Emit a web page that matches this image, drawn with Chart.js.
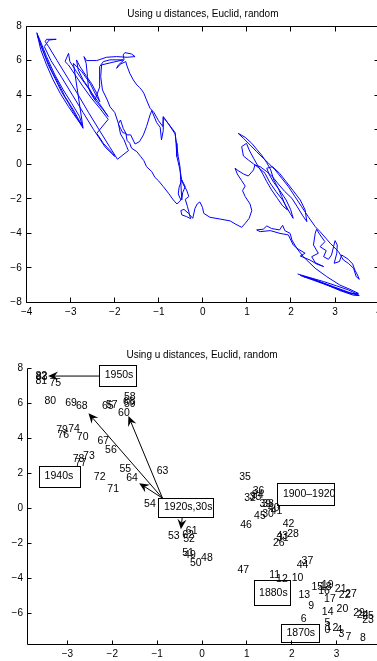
<!DOCTYPE html>
<html><head><meta charset="utf-8">
<script src="https://cdn.jsdelivr.net/npm/chart.js@4/dist/chart.umd.min.js"></script>
<style>
html,body{margin:0;padding:0;background:#fff;overflow:hidden;width:377px;height:661px;}
canvas{position:absolute;left:0;}
#c1{top:0;}
#c2{top:330px;}
</style></head><body>
<canvas id="c1" width="390" height="330"></canvas>
<canvas id="c2" width="377" height="331"></canvas>
<script>
// ---------- DATA: top chart trajectory (x, y pairs in data units) ----------
const seg1870s = [[2.15,-6.35],[2.43,-6.56],[2.74,-6.79],[3.04,-7.04],[3.30,-7.27],[3.53,-7.54],[3.26,-7.41],[2.89,-7.04],[2.51,-6.66],[2.21,-6.43],[2.58,-6.73],[2.96,-7.08],[3.34,-7.43],[3.55,-7.60],[3.42,-7.58],[3.11,-7.31],[2.77,-6.93],[2.47,-6.62],[2.28,-6.50],[2.66,-6.85],[3.04,-7.20],[3.38,-7.51],[3.53,-7.47],[3.34,-7.24],[3.11,-6.99],[2.81,-6.50],[2.55,-6.02],[2.28,-5.35],[2.13,-4.86],[2.02,-4.38],[1.98,-4.00]];
const seg1880s = [[1.86,-3.84],[1.81,-3.53],[1.74,-3.80],[1.56,-3.72],[1.45,-3.57],[1.37,-3.76],[1.22,-3.80],[1.30,-3.90],[1.53,-3.84],[1.75,-4.00],[1.94,-4.09],[2.05,-4.67],[2.17,-4.92],[2.32,-5.15],[2.21,-5.31],[2.43,-5.54],[2.58,-5.77],[2.74,-5.92],[2.55,-5.69],[2.47,-5.35],[2.62,-5.15],[2.51,-4.67],[2.55,-4.00],[2.58,-3.76],[2.66,-4.09],[2.77,-4.48],[2.66,-4.77],[2.80,-5.00],[2.74,-5.35],[2.85,-5.50],[2.92,-5.25],[3.00,-4.42],[3.05,-4.67],[3.04,-5.15],[2.98,-5.73],[3.10,-5.63],[3.15,-5.25],[3.30,-5.50],[3.40,-5.77],[3.45,-6.12],[3.51,-6.41],[3.55,-6.66],[3.48,-6.50],[3.42,-6.02],[3.30,-5.73],[3.19,-5.54],[3.08,-5.06],[2.89,-4.57],[2.66,-3.90],[2.55,-3.61]];
const segRise = [[2.39,-3.03],[2.24,-2.45],[2.09,-1.87],[1.94,-1.29],[1.79,-0.81],[1.64,-0.33],[1.49,0.06],[1.37,0.35],[1.22,0.73],[1.07,1.12],[0.92,1.50],[0.80,1.79]];
const seg1900s = [[0.96,1.56],[1.11,1.21],[1.22,0.87],[1.33,0.54],[1.45,0.09],[1.54,-0.33],[1.61,-0.91],[1.71,-1.39],[1.79,-1.87],[1.86,-2.30],[1.92,-2.64],[1.81,-2.41],[1.69,-1.97],[1.56,-1.49],[1.45,-1.01],[1.36,-0.56],[1.26,-0.14],[1.15,0.35],[1.05,0.83],[0.99,1.21],[0.88,1.02],[0.92,0.48],[1.03,0.25],[1.15,0.02],[1.28,-0.23],[1.41,-0.52],[1.52,-1.06],[1.66,-1.58],[1.81,-2.07],[1.98,-2.84],[2.05,-3.13],[1.99,-2.61],[1.89,-2.07],[1.75,-1.53],[1.61,-1.06],[1.51,-0.62],[1.45,-0.23],[1.58,-0.14],[1.74,-0.52],[1.89,-1.01],[2.05,-1.53],[2.21,-2.07],[2.32,-2.64],[2.36,-3.32],[2.27,-2.99],[2.14,-2.45],[2.02,-1.97],[1.86,-1.58],[1.71,-1.14],[1.58,-0.72],[1.45,-0.43],[1.30,-0.14],[1.18,-0.04],[1.15,-0.33],[1.03,-0.68],[0.92,-0.56],[0.80,-0.37],[0.73,-0.23]];
const segDip = [[0.78,-0.56],[0.88,-0.95],[0.96,-1.26],[0.90,-1.53],[0.96,-1.87],[1.07,-2.30],[1.11,-2.68],[1.05,-3.13],[0.96,-3.42],[0.88,-3.65],[0.73,-3.45],[0.62,-3.28],[0.39,-3.17],[0.16,-3.07],[0.02,-2.84],[-0.01,-2.49],[-0.07,-2.18],[-0.13,-2.30],[-0.18,-2.55],[-0.23,-3.13]];
const seg1920s = [[-0.33,-2.84],[-0.43,-2.61],[-0.50,-2.68],[-0.48,-2.93],[-0.37,-3.03],[-0.28,-3.15],[-0.35,-2.45],[-0.40,-2.03],[-0.32,-1.87],[-0.37,-1.49],[-0.44,-1.20],[-0.48,-0.91],[-0.54,-1.33],[-0.56,-1.72],[-0.50,-2.07],[-0.59,-2.30]];
const segMidLoop = [[-0.67,-2.07],[-0.78,-1.68],[-0.90,-1.29],[-1.01,-0.95],[-1.09,-0.76],[-1.16,-0.43],[-1.28,-0.14],[-1.34,0.21],[-1.41,0.44],[-1.50,0.73],[-1.62,0.93],[-1.66,1.21],[-1.72,1.37],[-1.75,1.79],[-1.82,1.83],[-1.87,2.08],[-1.92,2.33],[-1.87,2.56],[-1.81,2.08],[-1.73,1.70],[-1.64,1.70],[-1.54,1.17],[-1.44,1.31],[-1.35,1.70],[-1.28,2.18],[-1.20,2.85],[-1.16,3.11],[-1.13,2.91],[-1.05,2.41],[-0.97,2.14],[-0.94,1.41],[-0.90,1.95],[-0.90,2.72],[-0.76,2.27],[-0.63,1.83],[-0.61,1.21],[-0.59,0.44],[-0.52,-0.33],[-0.48,-0.91],[-0.40,-1.29],[-0.46,-1.65],[-0.48,-2.07],[-0.52,-0.14],[-0.56,0.44],[-0.59,1.02],[-0.63,1.75],[-0.78,2.33],[-0.90,2.76],[-0.91,2.18],[-1.01,2.53],[-1.11,2.99],[-1.20,3.24],[-1.28,3.72],[-1.34,4.11],[-1.39,4.30],[-1.44,4.45],[-1.50,4.59],[-1.58,4.88],[-1.66,5.26],[-1.73,5.74],[-1.75,5.94]];
const segUpper = [[-1.87,5.80],[-1.96,5.55],[-1.92,5.74],[-1.79,6.04],[-1.81,6.33],[-1.77,6.46],[-1.62,6.38],[-1.54,6.23],[-1.72,6.19],[-1.96,6.23],[-2.19,6.19],[-2.41,6.00],[-2.64,6.00],[-2.70,6.23],[-2.65,5.84],[-2.62,5.07],[-2.60,4.49],[-2.55,4.11],[-2.45,3.72],[-2.34,4.49],[-2.35,5.07],[-2.34,5.65],[-2.26,5.94],[-2.11,6.04],[-1.81,6.04],[-2.30,5.75],[-2.32,5.07],[-2.28,4.30],[-2.17,3.72],[-2.11,3.33],[-2.00,2.99],[-1.92,2.37],[-1.87,1.75],[-1.79,1.41],[-1.73,1.02],[-1.69,0.79],[-1.94,0.29]];
const segLeftLoop = [[-2.12,1.02],[-2.36,2.01],[-2.60,3.01],[-2.83,4.01],[-3.07,5.00],[-3.31,6.00],[-3.50,6.80],[-3.58,7.10],[-3.55,7.23],[-3.33,7.23],[-3.49,7.19],[-3.60,6.81],[-3.45,6.00],[-3.20,5.00],[-2.96,4.00],[-2.72,3.00],[-2.48,2.00],[-2.22,1.00],[-2.00,0.45],[-2.05,0.63],[-2.26,1.21],[-2.41,1.79]];
const segStreak2 = [[-2.15,2.60],[-2.34,3.24],[-2.53,3.82],[-2.72,4.49],[-2.90,5.17],[-3.05,5.74],[-3.13,5.94],[-3.05,6.42],[-3.02,5.94],[-2.87,5.36],[-2.68,4.68],[-2.49,4.01],[-2.30,3.33],[-2.15,2.76],[-2.26,3.14],[-2.45,3.72],[-2.56,4.30],[-2.72,4.88],[-2.83,5.46],[-2.87,6.04],[-2.79,5.65],[-2.64,5.07],[-2.53,4.68],[-2.41,4.11],[-2.34,3.62],[-2.41,3.91],[-2.56,4.68],[-2.75,5.36],[-2.94,5.84]];
const segStreak1 = [[-2.72,2.08],[-2.79,2.37],[-2.90,2.85],[-3.05,3.53],[-3.21,4.20],[-3.36,4.98],[-3.51,5.75],[-3.64,6.62],[-3.76,7.48],[-3.71,7.10],[-3.59,6.33],[-3.44,5.46],[-3.28,4.68],[-3.13,3.91],[-2.94,3.14],[-2.75,2.27],[-2.87,2.66],[-3.05,3.33],[-3.24,4.11],[-3.40,4.88],[-3.55,5.75],[-3.68,6.62],[-3.77,7.61],[-3.70,7.19],[-3.55,6.23],[-3.36,5.17],[-3.17,4.30],[-2.98,3.53],[-2.80,2.76],[-2.73,2.18]];

const topXTicks = [-4,-3,-2,-1,0,1,2,3,4];
const topYTicks = [-8,-6,-4,-2,0,2,4,6,8];

// ---------- DATA: bottom chart labelled points ----------
const labelX = [2.73,2.76,2.91,3.04,3.00,2.73,2.20,3.20,3.52,2.37,
 2.00,1.50,1.65,2.15,2.67,2.44,2.59,2.72,2.63,2.67,
 3.00,2.96,3.05,3.57,3.45,3.57,1.58,3.19,1.90,3.37,
 1.34,1.67,0.94,1.06,1.11,0.83,1.13,2.22,1.34,1.28,
 1.47,1.53,1.80,1.66,2.11,1.16,0.85,0.79,-0.02,-0.40,
 -0.27,-0.44,-0.42,-0.76,-1.29,-1.84,-2.16,-2.14,-1.74,-1.74,
 -1.87,-0.36,-0.44,-1.01,-1.69,-2.23,-1.76,-2.33,-2.81,-3.05,
 -2.79,-2.11,-2.41,-2.65,-2.98,-3.40,-3.22,-2.83,-2.88,-3.25,
 -3.51,-3.71,-3.71,-3.70];
const labelY = [-6.94,-6.77,-6.84,-7.17,-6.94,-6.56,-6.31,-7.35,-7.41,-5.57,
 -3.99,-3.80,-4.05,-4.94,-5.93,-4.50,-4.71,-5.19,-4.49,-4.37,
 -5.76,-4.60,-4.94,-6.37,-6.08,-6.17,-2.00,-4.89,-1.47,-5.99,
 -0.32,-1.69,0.57,0.66,0.76,1.77,1.00,-3.04,0.25,0.25,
 0.02,-0.19,-0.90,-1.58,-3.23,-0.44,-0.95,-3.52,-2.85,-2.66,
 -3.14,-2.57,-1.77,-1.62,0.25,2.22,3.32,5.89,6.35,5.95,
 5.42,-1.28,-1.52,2.14,1.71,5.83,6.03,3.84,5.83,5.99,
 4.08,1.08,1.77,2.96,4.50,7.16,4.18,2.58,2.79,4.46,
 6.09,7.27,7.56,7.46];
const labelNames = labelX.map((_, i) => String(i));

const boxText   = ['1950s','1940s','1920s,30s','1900\u20131920','1880s','1870s'];
const boxLeft   = [-2.29,-3.63,-0.97,1.68,1.15,1.76];
const boxRight  = [-1.46,-2.72,0.25,2.96,1.95,2.61];
const boxTop    = [8.17,2.41,0.60,1.46,-4.12,-6.63];
const boxBottom = [6.97,1.23,-0.51,0.19,-5.55,-7.67];

const arrowFromX = [-2.29,-0.88,-0.88,-0.88,-0.44];
const arrowFromY = [7.54,0.57,0.57,0.57,-0.51];
const arrowToX   = [-3.43,-2.53,-1.64,-1.40,-0.47];
const arrowToY   = [7.54,5.42,5.26,1.43,-1.20];

const botXTicks = [-3,-2,-1,0,1,2,3];
const botYTicks = [-6,-4,-2,0,2,4,6,8];

const titleText = 'Using u distances, Euclid, random';

// ---------- rendering ----------
const FONT = '"Liberation Sans", Arial, Helvetica, sans-serif';
Chart.defaults.font.family = FONT;
Chart.defaults.font.size = 10;
Chart.defaults.color = '#000';
const fmt = v => String(v).replace('-', '\u2212');

function framePlugin(opts) {
  return {
    id: 'frame',
    afterDraw(chart) {
      const {ctx, chartArea: a} = chart;
      const xs = chart.scales.x, ys = chart.scales.y;
      const L = Math.floor(a.left) + 0.5, R = Math.floor(a.right) + 0.5;
      const T = Math.floor(a.top) + 0.5, B = Math.floor(a.bottom) + 0.5;
      ctx.save();
      ctx.strokeStyle = '#000'; ctx.lineWidth = 1;
      ctx.beginPath();
      if (opts.box) { ctx.rect(L, T, R - L, B - T); }
      else { ctx.moveTo(L, T); ctx.lineTo(L, B); ctx.lineTo(R + 2, B); }
      ctx.stroke();
      const tl = opts.tick;
      ctx.beginPath();
      xs.ticks.forEach(t => {
        const px = Math.floor(xs.getPixelForValue(t.value)) + 0.5;
        ctx.moveTo(px, B); ctx.lineTo(px, B - tl);
        if (opts.box) { ctx.moveTo(px, T); ctx.lineTo(px, T + tl); }
      });
      ys.ticks.forEach(t => {
        const py = Math.floor(ys.getPixelForValue(t.value)) + 0.5;
        ctx.moveTo(L, py); ctx.lineTo(L + tl, py);
        if (opts.box) { ctx.moveTo(R, py); ctx.lineTo(R - tl, py); }
      });
      ctx.stroke();
      ctx.font = '10px ' + FONT; ctx.fillStyle = '#000';
      ctx.textAlign = 'center'; ctx.textBaseline = 'middle';
      ctx.fillText(titleText, (a.left + a.right) / 2, opts.titleY);
      ctx.restore();
    }
  };
}

function drawArrow(ctx, x1, y1, x2, y2) {
  const ang = Math.atan2(y2 - y1, x2 - x1);
  const c = Math.cos(ang), s = Math.sin(ang);
  const hl = 10, hw = 4.5, notch = 6.5;
  const p = (d, w) => [x2 - c * d - s * w, y2 - s * d + c * w];
  ctx.beginPath();
  ctx.moveTo(x1, y1);
  ctx.lineTo(...p(notch, 0));
  ctx.stroke();
  ctx.beginPath();
  ctx.moveTo(x2, y2);
  ctx.lineTo(...p(hl, hw));
  ctx.lineTo(...p(notch, 0));
  ctx.lineTo(...p(hl, -hw));
  ctx.closePath();
  ctx.fill();
}

const annotPlugin = {
  id: 'annot',
  afterDraw(chart) {
    const {ctx} = chart;
    const xs = chart.scales.x, ys = chart.scales.y;
    const meta = chart.getDatasetMeta(0);
    ctx.save();
    ctx.font = '10.5px ' + FONT; ctx.fillStyle = '#000'; ctx.strokeStyle = '#000';
    ctx.textAlign = 'left'; ctx.textBaseline = 'middle';
    meta.data.forEach((el, i) => ctx.fillText(labelNames[i], el.x, el.y));
    ctx.lineWidth = 1;
    boxText.forEach((t, i) => {
      const x1 = xs.getPixelForValue(boxLeft[i]), x2 = xs.getPixelForValue(boxRight[i]);
      const y1 = ys.getPixelForValue(boxTop[i]), y2 = ys.getPixelForValue(boxBottom[i]);
      ctx.strokeRect(Math.round(x1) + 0.5, Math.round(y1) + 0.5, Math.round(x2 - x1), Math.round(y2 - y1));
      ctx.fillText(t, x1 + 5.5, (y1 + y2) / 2);
    });
    arrowFromX.forEach((fx, i) => {
      drawArrow(ctx, xs.getPixelForValue(fx), ys.getPixelForValue(arrowFromY[i]),
        xs.getPixelForValue(arrowToX[i]), ys.getPixelForValue(arrowToY[i]));
    });
    ctx.restore();
  }
};

const pathPoints = [].concat(seg1870s, seg1880s, segRise, seg1900s, segDip, seg1920s,
  segMidLoop, segUpper, segLeftLoop, segStreak2, segStreak1).map(p => ({x: p[0], y: p[1]}));

function axisCfg(min, max, ticksArr, fitFn, pad) {
  return {
    type: 'linear', min, max, bounds: 'data',
    afterBuildTicks: s => { s.ticks = ticksArr.map(v => ({value: v})); },
    afterFit: fitFn,
    grid: {display: false, drawTicks: false},
    border: {display: false},
    ticks: {color: '#000', padding: pad, autoSkip: false, maxRotation: 0, font: {size: 10}, callback: fmt}
  };
}

new Chart(document.getElementById('c1'), {
  type: 'scatter',
  data: {datasets: [{data: pathPoints, showLine: true, borderColor: '#0000ff', borderWidth: 1,
    pointRadius: 0, fill: false, tension: 0}]},
  options: {
    animation: false, responsive: false, devicePixelRatio: 1,
    layout: {padding: {left: 0, right: 10.9, top: 26, bottom: 0}},
    plugins: {legend: {display: false}, tooltip: {enabled: false}, title: {display: false}},
    scales: {
      x: axisCfg(-4, 4, topXTicks, s => { s.height = 27.5; }, 4),
      y: axisCfg(-8, 8, topYTicks, s => { s.width = 26.7; }, 5)
    }
  },
  plugins: [framePlugin({box: true, tick: 5, titleY: 14})]
});

new Chart(document.getElementById('c2'), {
  type: 'scatter',
  data: {datasets: [{data: labelX.map((x, i) => ({x, y: labelY[i]})), pointRadius: 0, showLine: false}]},
  options: {
    animation: false, responsive: false, devicePixelRatio: 1,
    layout: {padding: {left: 0, right: 0, top: 38, bottom: 0}},
    plugins: {legend: {display: false}, tooltip: {enabled: false}, title: {display: false}},
    scales: {
      x: axisCfg(-3.9, 3.9, botXTicks, s => { s.height = 17; }, 4),
      y: axisCfg(-7.75, 8, botYTicks, s => { s.width = 27; }, 4)
    }
  },
  plugins: [framePlugin({box: false, tick: 4, titleY: 25}), annotPlugin]
});
</script>
</body></html>
